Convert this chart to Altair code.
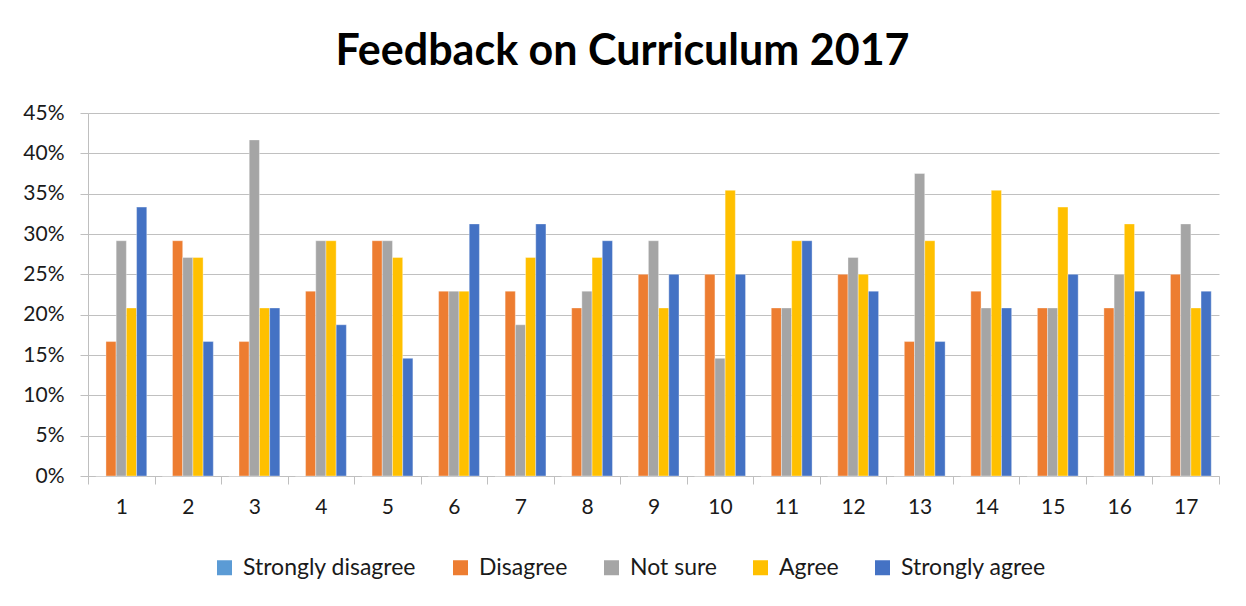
import altair as alt
import pandas as pd

questions = [str(i) for i in range(1, 18)]
series = ["Strongly disagree", "Disagree", "Not sure", "Agree", "Strongly agree"]
colors = ["#5B9BD5", "#ED7D31", "#A5A5A5", "#FFC000", "#4472C4"]

# counts out of 48 respondents
strongly_disagree = [0] * 17
disagree = [8, 14, 8, 11, 14, 11, 11, 10, 12, 12, 10, 12, 8, 11, 10, 10, 12]
not_sure = [14, 13, 20, 14, 14, 11, 9, 11, 14, 7, 10, 13, 18, 10, 10, 12, 15]
agree = [10, 13, 10, 14, 13, 11, 13, 13, 10, 17, 14, 12, 14, 17, 16, 15, 10]
strongly_agree = [16, 8, 10, 9, 7, 15, 15, 14, 12, 12, 14, 11, 8, 10, 12, 11, 11]
total = 48

rows = []
for s, vals in zip(series, [strongly_disagree, disagree, not_sure, agree, strongly_agree]):
    for q, v in zip(questions, vals):
        rows.append({"q": q, "series": s, "value": v / total})
df = pd.DataFrame(rows)

font = "Lato"
text_color = "#1a1a1a"

chart = alt.Chart(df).mark_bar(stroke="white", strokeWidth=0.6, strokeOpacity=0.6).encode(
    x=alt.X("q:N", sort=questions, title=None,
            scale=alt.Scale(paddingInner=0, paddingOuter=0),
            axis=alt.Axis(labelAngle=0, tickBand="extent", labelFontSize=21, labelColor=text_color,
                          labelFont=font, domainColor="#bfbfbf", tickColor="#bfbfbf", tickSize=8,
                          labelPadding=12, grid=False)),
    xOffset=alt.XOffset("series:N", sort=series,
                        scale=alt.Scale(paddingInner=0, paddingOuter=0.76)),
    y=alt.Y("value:Q", title=None,
            scale=alt.Scale(domain=[0, 0.45]),
            axis=alt.Axis(format=".0%", values=[i * 0.05 for i in range(10)], labelFontSize=21,
                          labelColor=text_color, labelFont=font, domainColor="#bfbfbf",
                          tickColor="#bfbfbf", tickSize=8, labelPadding=16, gridColor="#c0c0c0")),
    color=alt.Color("series:N", sort=series,
                    scale=alt.Scale(domain=series, range=colors),
                    legend=alt.Legend(title=None, orient="none", legendX=125, legendY=443,
                                      direction="horizontal",
                                      labelFontSize=23, labelFont=font, labelColor=text_color,
                                      symbolType="square", symbolSize=225, symbolStrokeWidth=0,
                                      columnPadding=32, labelLimit=300, labelOffset=7)),
).properties(
    width=1131,
    height=363,
    title=alt.TitleParams("Feedback on Curriculum 2017", fontSize=43, font=font,
                          fontWeight="bold", color="#000000", offset=28, anchor="middle", dx=-31),
    padding={"left": 80, "top": 105, "right": 19, "bottom": 122},
    autosize=alt.AutoSizeParams(type="none"),
).configure_view(stroke=None)

chart.save("out.html", embed_options={"renderer": "svg", "actions": False})
